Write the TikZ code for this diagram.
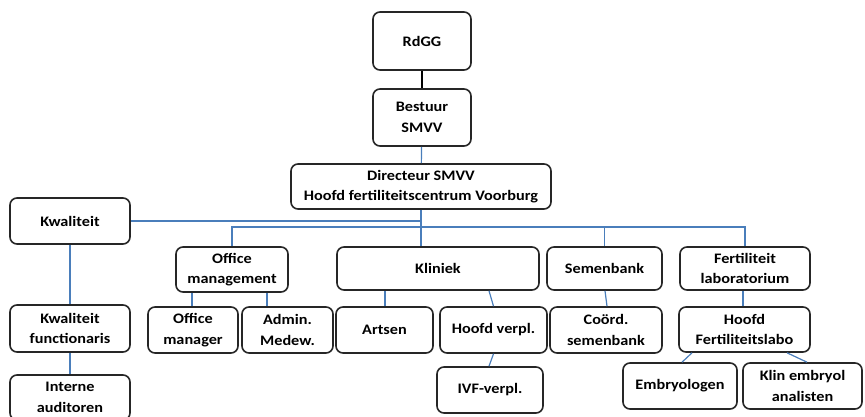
\documentclass[tikz,border=0pt]{standalone}
\usepackage{fontspec}
\setmainfont{Carlito}[FakeStretch=1.12]
\begin{document}
\begin{tikzpicture}[x=1pt,y=-1pt,
  box/.style={draw=black!85, line width=1.6pt, rounded corners=7pt, inner sep=0pt, align=center,
    font=\bfseries\fontsize{14.5}{20.5}\selectfont},
  bconn/.style={draw=black, line width=1.2pt}]
\useasboundingbox (0,0) rectangle (865,417);
\definecolor{lnblue}{HTML}{4A7EBB}
\tikzset{conn/.style={draw=lnblue, line width=1.2pt}}
\node[box, minimum width=98pt, minimum height=58pt] (rdgg) at (422,41) {RdGG};
\node[box, minimum width=98pt, minimum height=57pt] (bestuur) at (422,117.5) {Bestuur\\SMVV};
\node[box, minimum width=260pt, minimum height=45pt] (dir) at (421,186.5) {Directeur SMVV\\Hoofd fertiliteitscentrum Voorburg};
\node[box, minimum width=120pt, minimum height=46pt] (kwal) at (70,221) {Kwaliteit};
\node[box, minimum width=112pt, minimum height=45pt] (office) at (232,269.5) {Office\\management};
\node[box, minimum width=202pt, minimum height=43pt] (kliniek) at (438,268.5) {Kliniek};
\node[box, minimum width=115pt, minimum height=43pt] (semen) at (604.5,268.5) {Semenbank};
\node[box, minimum width=130pt, minimum height=43pt] (fert) at (745,268.5) {Fertiliteit\\laboratorium};
\node[box, minimum width=120pt, minimum height=47pt] (kfunc) at (70,328.5) {Kwaliteit\\functionaris};
\node[box, minimum width=90pt, minimum height=46pt] (offman) at (193,330) {Office\\manager};
\node[box, minimum width=91pt, minimum height=46pt] (admin) at (287.5,330) {Admin.\\Medew.};
\node[box, minimum width=97pt, minimum height=46pt] (artsen) at (384.5,330) {Artsen};
\node[box, minimum width=107pt, minimum height=46pt] (hverpl) at (493.5,330) {Hoofd verpl.};
\node[box, minimum width=112pt, minimum height=46pt] (coord) at (606,330) {Coörd.\\semenbank};
\node[box, minimum width=131pt, minimum height=45pt] (hfert) at (744.5,329.5) {Hoofd\\Fertiliteitslabo};
\node[box, minimum width=106pt, minimum height=46pt] (ivf) at (490,390) {IVF-verpl.};
\node[box, minimum width=114pt, minimum height=46pt] (embryo) at (680,386) {Embryologen};
\node[box, minimum width=119pt, minimum height=46pt] (klin) at (802.5,386) {Klin embryol\\analisten};
\node[box, minimum width=120pt, minimum height=45pt] (interne) at (70,397.5) {Interne\\auditoren};
% connectors
\draw[bconn] (rdgg) -- (bestuur);
\draw[conn] (bestuur) -- (dir);
\draw[conn] (dir.south) -- (dir.south |- kliniek.north);
\draw[conn] (kwal.east) -- (kwal.east -| dir.south);
\coordinate (bus) at (421,227);
\draw[conn] (office.north) |- (bus) -| (fert.north);
\draw[conn] (semen.north) -- (semen.north |- bus);
\draw[conn] (kwal) -- (kfunc);
\draw[conn] (kfunc) -- (interne);
\draw[conn] (offman.north -| 192,0) -- (office.south -| 192,0);
\draw[conn] (admin.north -| 267,0) -- (office.south -| 267,0);
\draw[conn] (artsen.north -| 385,0) -- (kliniek.south -| 385,0);
\draw[conn] (kliniek.south -| 489,0) -- (hverpl.north);
\draw[conn] (hverpl.south) -- (ivf.north -| 489,0);
\draw[conn] (semen.south -| 605,0) -- (coord.north -| 607,0);
\draw[conn] (fert.south -| 743,0) -- (hfert.north -| 743,0);
\draw[conn] (hfert.south -| 692,0) -- (embryo.north -| 682,0);
\draw[conn] (hfert.south -| 787,0) -- (klin.north -| 807,0);
\end{tikzpicture}
\end{document}
